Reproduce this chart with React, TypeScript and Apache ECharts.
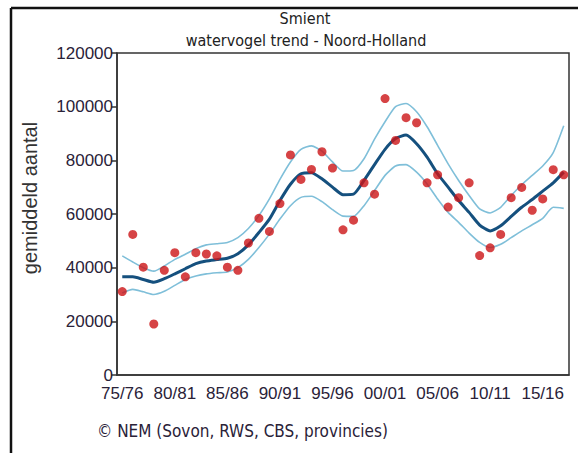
import React, { useEffect, useRef } from "react";
import * as echarts from "echarts";

const seasons: string[] = [];
for (let y = 1975; y <= 2017; y++) {
  const a = String(y % 100).padStart(2, "0");
  const b = String((y + 1) % 100).padStart(2, "0");
  seasons.push(`${a}/${b}`);
}

const counts = [
  31100, 52400, 40200, 19000, 39000, 45600, 36600, 45600, 45100, 44400,
  40200, 39000, 49200, 58400, 53500, 63900, 82000, 72900, 76600, 83200,
  77100, 54100, 57700, 71600, 67400, 103000, 87400, 95900, 94000, 71600,
  74600, 62600, 66100, 71600, 44500, 47400, 52400, 66100, 69900, 61400,
  65600, 76500, 74600,
];

const trend = [
  36600, 36600, 35600, 34600, 35900, 37700, 39600, 41500, 42500, 43000,
  43500, 45200, 48500, 53100, 58100, 65000, 71100, 75000, 75400, 73100,
  70000, 67200, 67400, 72500, 78400, 84100, 88100, 89400, 86200, 81200,
  75000, 70000, 65000, 60600, 55900, 53700, 55600, 59100, 62500, 65400,
  68500, 71600, 75600,
];

const upper = [
  44400, 42100, 40000, 38700, 40600, 43100, 45000, 47100, 48500, 48900,
  49400, 51200, 54600, 59400, 65600, 72900, 79400, 84100, 85400, 83400,
  79400, 76000, 76200, 80600, 87900, 94400, 100000, 101200, 98100, 92500,
  85600, 78700, 72500, 66900, 61900, 60400, 62500, 66900, 70900, 74400,
  77900, 82900, 92900,
];

const lower = [
  30600, 31900, 31000, 30000, 31200, 33400, 35600, 36900, 37700, 38100,
  38400, 40000, 43100, 47500, 52500, 58100, 63100, 66200, 66600, 64600,
  61600, 59200, 59100, 63100, 68700, 74400, 77900, 78400, 75600, 71200,
  65600, 60600, 56900, 52900, 49400, 47500, 48700, 51200, 53700, 56000,
  58400, 62500, 62100,
];

const titleLines = ["Smient", "watervogel trend - Noord-Holland"];
const yAxisName = "gemiddeld aantal";
const footer = "© NEM (Sovon, RWS, CBS, provincies)";

export default function App() {
  const ref = useRef<HTMLDivElement>(null);
  useEffect(() => {
    if (!ref.current) return;
    const chart = echarts.init(ref.current, null, { renderer: "svg" });
    const labelFont = "'Liberation Sans', Arial, sans-serif";
    const tahoma = "'DejaVu Sans Condensed', 'DejaVu Sans', sans-serif";
    chart.setOption({
      animation: false,
      backgroundColor: "#fff",
      grid: {
        left: 117,
        top: 53,
        right: 9,
        bottom: 78,
        show: true,
        borderColor: "#333",
        borderWidth: 1.5,
      },
      xAxis: {
        type: "category",
        data: seasons,
        boundaryGap: true,
        axisLine: { lineStyle: { color: "#333", width: 1.5 } },
        axisTick: {
          alignWithLabel: true,
          interval: 4,
          length: 6,
          lineStyle: { color: "#333", width: 1.5 },
        },
        axisLabel: {
          interval: 4,
          color: "#2a2238",
          fontFamily: labelFont,
          fontSize: 17,
          margin: 10,
        },
        splitLine: { show: false },
      },
      yAxis: {
        type: "value",
        min: 0,
        max: 120000,
        interval: 20000,
        axisLine: { show: true, lineStyle: { color: "#333", width: 1.5 } },
        axisTick: { show: true, length: 6, lineStyle: { color: "#333", width: 1.5 } },
        axisLabel: {
          color: "#2a2238",
          fontFamily: labelFont,
          fontSize: 17,
          margin: 4,
          formatter: (v: number) => String(v),
        },
        splitLine: { show: false },
      },
      graphic: [
        {
          type: "line",
          shape: { x1: 11, y1: 8, x2: 578, y2: 8 },
          style: { stroke: "#111", lineWidth: 2.5 },
        },
        {
          type: "line",
          shape: { x1: 11, y1: 8, x2: 11, y2: 453 },
          style: { stroke: "#111", lineWidth: 2.5 },
        },
        {
          type: "text",
          x: 305,
          y: 18,
          style: {
            text: titleLines[0],
            fontFamily: tahoma,
            fontSize: 16,
            fill: "#222",
            align: "center",
            verticalAlign: "middle",
          },
        },
        {
          type: "text",
          x: 306,
          y: 40,
          style: {
            text: titleLines[1],
            fontFamily: tahoma,
            fontSize: 16,
            fill: "#222",
            align: "center",
            verticalAlign: "middle",
          },
        },
        {
          type: "text",
          x: 30,
          y: 198,
          rotation: Math.PI / 2,
          style: {
            text: yAxisName,
            fontFamily: labelFont,
            fontSize: 20,
            fill: "#333",
            align: "center",
            verticalAlign: "middle",
          },
        },
        {
          type: "text",
          x: 97,
          y: 431,
          style: {
            text: footer,
            fontFamily: tahoma,
            fontSize: 17,
            fill: "#2a2238",
            align: "left",
            verticalAlign: "middle",
          },
        },
      ],
      series: [
        {
          type: "line",
          data: upper,
          symbol: "none",
          smooth: 0.2,
          lineStyle: { color: "#7fbfd9", width: 1.6 },
          z: 2,
        },
        {
          type: "line",
          data: lower,
          symbol: "none",
          smooth: 0.2,
          lineStyle: { color: "#7fbfd9", width: 1.6 },
          z: 2,
        },
        {
          type: "line",
          data: trend,
          symbol: "none",
          smooth: 0.2,
          lineStyle: { color: "#15507e", width: 3 },
          z: 3,
        },
        {
          type: "scatter",
          data: counts,
          symbol: "circle",
          symbolSize: 9,
          itemStyle: { color: "#cc1416" },
          z: 4,
        },
      ],
    });
    return () => chart.dispose();
  }, []);
  return (
    <div
      ref={ref}
      style={{ width: 578, height: 453, position: "absolute", left: 0, top: 0 }}
    />
  );
}
